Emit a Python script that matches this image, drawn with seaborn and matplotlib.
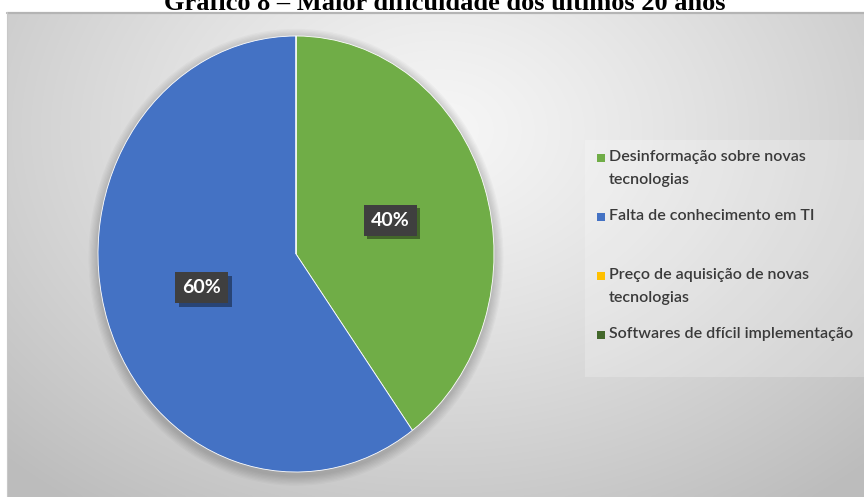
import numpy as np
import matplotlib
matplotlib.use("Agg")
import matplotlib.pyplot as plt
import matplotlib.patheffects as pe
from matplotlib.patches import Rectangle, Ellipse
import seaborn as sns

# ---- data -------------------------------------------------------------
title = "Gráfico 8 – Maior dificuldade dos últimos 20 anos"
categories = [
    "Desinformação sobre novas\ntecnologias",
    "Falta de conhecimento em TI",
    "Preço de aquisição de novas\ntecnologias",
    "Softwares de dfícil implementação",
]
shares = [40, 60, 0, 0]
colors = ["#70ad47", "#4472c4", "#ffc000", "#43682b"]

# ---- style ------------------------------------------------------------
sns.set_theme(style="white")
plt.rcParams["font.family"] = ["Lato", "DejaVu Sans"]

W, H, DPI = 864, 497, 100
fig = plt.figure(figsize=(W / DPI, H / DPI), dpi=DPI)
fig.patch.set_facecolor("white")

# background panel with a soft radial gradient
bg = fig.add_axes([0, 0, 1, 1], zorder=0)
bg.set_xlim(0, W)
bg.set_ylim(H, 0)
bg.axis("off")
px0, py0 = 7, 12
xs = np.linspace(px0, W, 400)
ys = np.linspace(py0, H, 240)
X, Y = np.meshgrid(xs, ys)
d = np.sqrt(((X - 440) / 560) ** 2 + ((Y - 130) / 420) ** 2)
lum = np.clip(0.965 - 0.2 * d ** 1.2, 0.74, 1)
bg.imshow(np.dstack([lum, lum, lum]), extent=(px0, W, H, py0),
          aspect="auto", interpolation="bilinear", zorder=0)
bg.plot([px0, W], [py0 + 0.5, py0 + 0.5], color="#b4b4b4", lw=1.6, zorder=1)
bg.plot([px0, px0], [py0, H], color="#c8c8c8", lw=0.8, zorder=1)

fig.text(445 / W, 1 - 10 / H, title, ha="center", va="baseline",
         fontsize=19, fontweight="bold", family="Liberation Serif",
         color="black", zorder=5)

# ---- pie --------------------------------------------------------------
cx, cy, rx, ry = 296, 254, 198, 218
ax = fig.add_axes([0, 0, 1, 1], zorder=2)
ax.patch.set_alpha(0)

# soft shadow around the pie
for i in range(8):
    grow = 1 + 0.006 * (i + 1)
    ax.add_patch(Ellipse((0, -0.015), 2 * grow, 2 * grow, fc="black",
                         ec="none", alpha=0.025, zorder=0))

wedges, texts, autotexts = ax.pie(
    shares, colors=colors, startangle=90, counterclock=False,
    autopct=lambda p: f"{p:.0f}%" if p > 0 else "",
    pctdistance=0.5,
    wedgeprops=dict(edgecolor="white", linewidth=0.6),
    textprops=dict(color="white", fontsize=14, fontweight="bold"),
)
for w in wedges:
    w.set_zorder(2)
for t in autotexts:
    if t.get_text():
        t.set_bbox(dict(boxstyle="square,pad=0.36", fc="#3f3f3f", ec="none"))
        t.get_bbox_patch().set_path_effects(
            [pe.SimplePatchShadow(offset=(2.5, -2.5), shadow_rgbFace="black", alpha=0.4),
             pe.Normal()])
        t.set_zorder(4)

ax.set_aspect("auto")
ax.set_xlim((0 - cx) / rx, (W - cx) / rx)
ax.set_ylim(-(H - cy) / ry, cy / ry)
ax.axis("off")

# ---- legend -----------------------------------------------------------
bg.add_patch(Rectangle((585, 140), W - 585, 237, fc="white", ec="none",
                       alpha=0.22, zorder=2))
row0, step = 158, 59
for i, (lab, col) in enumerate(zip(categories, colors)):
    yy = row0 + i * step
    bg.add_patch(Rectangle((596.5, yy - 4.5), 8.5, 8.5, fc=col, ec="none", zorder=3))
    bg.text(609, yy - 8, lab, ha="left", va="top", fontsize=11.5,
            fontweight="semibold", color="#3a3a3a", linespacing=1.8, zorder=3)

fig.savefig("out.png", dpi=DPI)
